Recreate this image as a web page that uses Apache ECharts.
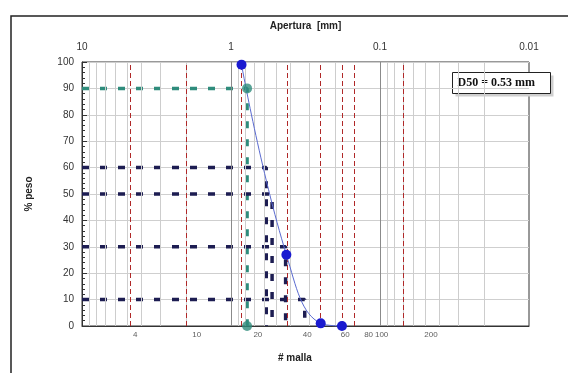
<!DOCTYPE html>
<html>
<head>
<meta charset="utf-8">
<script src="https://cdn.jsdelivr.net/npm/echarts@6/dist/echarts.min.js"></script>
<style>
  html, body { margin: 0; padding: 0; background: #fff; }
  #chart { width: 568px; height: 373px; }
</style>
</head>
<body>
<div id="chart"></div>
<script>
// tamices (# malla) y su abertura en mm
var sieveNames = ['4', '10', '20', '40', '60', '80', '100', '200'];
var sieveMm = [4.75, 2.0, 0.85, 0.425, 0.25, 0.18, 0.15, 0.075];

// curva granulometrica
var sampleMm = [0.85, 0.425, 0.25, 0.18];
var samplePassing = [99, 27, 1, 0];

// diametros caracteristicos
var dLevels = [90, 60, 50, 30, 10];
var dMm = [0.78, 0.58, 0.53, 0.43, 0.32];

var apertureTicks = [10, 1, 0.1, 0.01];
var yTicks = [0, 10, 20, 30, 40, 50, 60, 70, 80, 90, 100];

// lineas de grilla logaritmica (2..9 de cada decada)
var minorGrid = [];
var majorGrid = [];
[0.01, 0.1, 1].forEach(function (d) {
  for (var k = 2; k <= 9; k++) minorGrid.push(+(k * d).toFixed(4));
  if (d > 0.01) majorGrid.push(d);
});

var FONT = 'Liberation Sans';
var NAVY = '#1d1d52';
var TEAL = '#2f8c7c';

var series = [];

// grilla
series.push({
  type: 'line',
  data: [],
  silent: true,
  markLine: {
    silent: true,
    symbol: 'none',
    label: { show: false },
    animation: false,
    data: minorGrid.map(function (v) {
      return { xAxis: v, lineStyle: { color: '#cdcdcd', width: 1, type: 'solid' } };
    }).concat(majorGrid.map(function (v) {
      return { xAxis: v, lineStyle: { color: '#8a8a8a', width: 1, type: 'solid' } };
    }))
  }
});

// tamices
series.push({
  type: 'line',
  data: [],
  silent: true,
  z: 3,
  markLine: {
    silent: true,
    symbol: 'none',
    label: { show: false },
    animation: false,
    data: sieveMm.map(function (v) {
      return { xAxis: v, lineStyle: { color: '#b02828', width: 1, type: [5, 3] } };
    })
  }
});

// lineas D
dLevels.forEach(function (lvl, i) {
  series.push({
    type: 'line',
    z: 4,
    symbol: 'none',
    data: [[10, lvl], [dMm[i], lvl], [dMm[i], 0]],
    lineStyle: { color: i === 0 ? TEAL : NAVY, width: 3.5, type: [7, 11] }
  });
});

// curva
series.push({
  type: 'line',
  z: 6,
  smooth: 0.45,
  data: sampleMm.map(function (v, i) { return [v, samplePassing[i]]; }),
  symbol: 'circle',
  symbolSize: 10,
  clip: false,
  itemStyle: { color: '#1a1ad0' },
  lineStyle: { color: '#5a6ad0', width: 1 }
});

// D90
series.push({
  type: 'scatter',
  z: 7,
  symbolSize: 10,
  data: [[dMm[0], dLevels[0]], [dMm[0], 0]],
  itemStyle: { color: TEAL }
});

// etiquetas # malla
series.push({
  type: 'scatter',
  xAxisIndex: 1,
  symbolSize: 1,
  clip: false,
  silent: true,
  itemStyle: { color: 'rgba(0,0,0,0)' },
  data: sieveMm.map(function (v) { return [v, 0]; }),
  label: {
    show: true,
    position: 'bottom',
    distance: 4,
    color: '#333',
    fontSize: 8,
    fontFamily: FONT,
    formatter: function (p) { return sieveNames[p.dataIndex]; }
  }
});

var chart = echarts.init(document.getElementById('chart'));
chart.setOption({
  backgroundColor: '#fff',
  animation: false,
  grid: {
    left: 82, right: 39, top: 62, bottom: 47,
    show: true, borderColor: '#333', borderWidth: 1
  },
  xAxis: [{
    type: 'log',
    logBase: 10,
    inverse: true,
    min: apertureTicks[3],
    max: apertureTicks[0],
    position: 'top',
    name: 'Apertura  [mm]',
    nameLocation: 'middle',
    nameGap: 31,
    nameTextStyle: { fontFamily: FONT, fontSize: 10, color: '#222', fontWeight: 'bold' },
    axisLine: { lineStyle: { color: '#333' } },
    axisTick: { show: false },
    axisLabel: {
      margin: 10,
      fontFamily: FONT, fontSize: 10, color: '#333',
      formatter: function (v) { return String(+v.toPrecision(3)); }
    },
    splitLine: { show: false }
  }, {
    type: 'log',
    logBase: 10,
    inverse: true,
    min: 0.019,
    max: 10,
    position: 'bottom',
    show: false
  }],
  yAxis: {
    type: 'value',
    min: yTicks[0],
    max: yTicks[yTicks.length - 1],
    interval: 10,
    name: '% peso',
    nameLocation: 'middle',
    nameRotate: 90,
    nameGap: 48,
    nameTextStyle: { fontFamily: FONT, fontSize: 10, color: '#222', fontWeight: 'bold' },
    axisLine: { show: true, lineStyle: { color: '#333' } },
    axisTick: { show: true, inside: true, length: 5, lineStyle: { color: '#333' } },
    minorTick: { show: true, splitNumber: 5, length: 3, lineStyle: { color: '#333' } },
    axisLabel: { fontFamily: FONT, fontSize: 10, color: '#333', margin: 8 },
    splitLine: { lineStyle: { color: '#cfcfcf' } }
  },
  graphic: [
    {
      type: 'rect',
      silent: true,
      shape: { x: 11, y: 16, width: 640, height: 420 },
      style: { fill: null, stroke: '#222', lineWidth: 1.5 }
    },
    {
      type: 'text',
      left: 278, top: 353,
      style: { text: '# malla', font: 'bold 10px "Liberation Sans"', fill: '#222' }
    },
    {
      type: 'group',
      left: 452, top: 72,
      z: 20,
      children: [
        { type: 'rect', shape: { x: 3, y: 3, width: 98, height: 21 }, style: { fill: '#cfcfcf' } },
        { type: 'rect', shape: { x: 0, y: 0, width: 98, height: 21 }, style: { fill: '#fff', stroke: '#222', lineWidth: 1 } },
        {
          type: 'text', x: 5, y: 4,
          style: {
            text: 'D50 = ' + dMm[2].toFixed(2) + ' mm',
            font: 'bold 12px "Liberation Serif"', fill: '#111'
          }
        }
      ]
    }
  ],
  series: series
});
</script>
</body>
</html>
